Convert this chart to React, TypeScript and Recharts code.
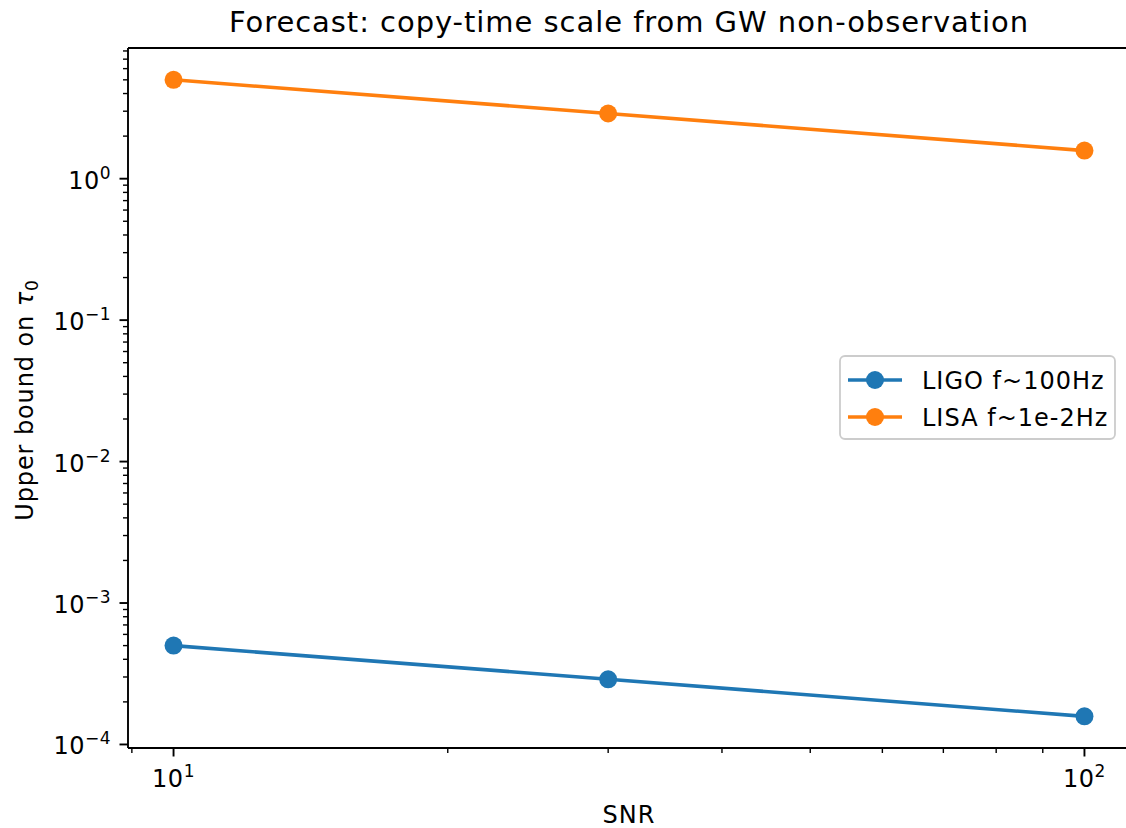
import React from 'react';
import { LineChart, Line, XAxis, YAxis, Legend, Customized, ReferenceLine } from 'recharts';

// SNR values and the two forecast series (upper bound on tau_0)
const snrValues = [10, 30, 100];
const ligoBound = [5.0e-4, 2.89e-4, 1.58e-4];
const lisaBound = [5.0, 2.89, 1.58];

const seriesNames = ['LIGO f~100Hz', 'LISA f~1e-2Hz'];
const seriesColors = ['#1f77b4', '#ff7f0e'];

const xMajorTicks = [10, 100];
const xMinorTicks = [9, 20, 30, 40, 50, 60, 70, 80, 90];
const yMajorTicks = [1e-4, 1e-3, 1e-2, 1e-1, 1];
const yMinorMultipliers = [2, 3, 4, 5, 6, 7, 8, 9];

const xDomain = [Math.pow(10, 0.95), Math.pow(10, 2.05)];
const yDomain = [Math.pow(10, -4.025), Math.pow(10, 0.924)];

const yMinorTicks = yMajorTicks
  .flatMap(d => yMinorMultipliers.map(m => m * d))
  .filter(v => v > yDomain[0] && v < yDomain[1]);

const chartData = snrValues.map((snr, i) => ({
  snr,
  ligo: ligoBound[i],
  lisa: lisaBound[i],
}));

const FONT = '"DejaVu Sans", sans-serif';
const isMajor = (v: number, majors: number[]) => majors.some(m => Math.abs(m - v) / m < 1e-6);
const expOf = (v: number) => {
  const e = Math.round(Math.log10(v));
  return e < 0 ? `\u2212${-e}` : `${e}`;
};

function XTick(props: any) {
  const { x, y, payload } = props;
  const v = payload.value;
  const major = isMajor(v, xMajorTicks);
  return (
    <g>
      <line x1={x} y1={y} x2={x} y2={y + (major ? 8.5 : 5)} stroke="#000" strokeWidth={major ? 1.9 : 1.4} />
      {major && (
        <text x={x} y={y + 38.5} textAnchor="middle" fontFamily={FONT} fontSize={24} letterSpacing={0.5} fill="#000">
          <tspan>10</tspan>
          <tspan dy={-10} fontSize={17}>{expOf(v)}</tspan>
        </text>
      )}
    </g>
  );
}

function YTick(props: any) {
  const { x, y, payload } = props;
  const v = payload.value;
  const major = isMajor(v, yMajorTicks);
  return (
    <g>
      <line x1={x} y1={y} x2={x - (major ? 8.5 : 5)} y2={y} stroke="#000" strokeWidth={major ? 1.9 : 1.4} />
      {major && (
        <text x={x - 17} y={y + 10} textAnchor="end" fontFamily={FONT} fontSize={24} letterSpacing={0.5} fill="#000">
          <tspan>10</tspan>
          <tspan dy={-10} fontSize={17}>{expOf(v)}</tspan>
        </text>
      )}
    </g>
  );
}

function LegendBox(props: any) {
  const items = props.payload || [];
  return (
    <svg width={277} height={85} style={{ display: 'block' }}>
      <rect x={1} y={1} width={275} height={83} rx={5} fill="rgba(255,255,255,0.8)" stroke="#cccccc" strokeWidth={1.8} />
      {items.map((it: any, i: number) => {
        const cy = 25 + i * 37;
        return (
          <g key={it.value}>
            <line x1={9} y1={cy} x2={63} y2={cy} stroke={it.color} strokeWidth={3.6} />
            <circle cx={36} cy={cy} r={9} fill={it.color} />
            <text x={83} y={cy + 8.5} fontFamily={FONT} fontSize={24} letterSpacing={1} fill="#000">{it.value}</text>
          </g>
        );
      })}
    </svg>
  );
}

function Labels() {
  return (
    <g fontFamily={FONT} fill="#000">
      <text x={629} y={32} textAnchor="middle" fontSize={29} letterSpacing={0.95}>
        Forecast: copy-time scale from GW non-observation
      </text>
      <text x={629} y={822.5} textAnchor="middle" fontSize={24} letterSpacing={1}>SNR</text>
      <text x={33} y={400} textAnchor="middle" fontSize={24} letterSpacing={0.9} transform="rotate(-90, 33, 400)">
        <tspan>Upper bound on </tspan>
        <tspan fontStyle="italic">τ</tspan>
        <tspan dy={5} fontSize={17}>0</tspan>
      </text>
    </g>
  );
}

export default function App() {
  return (
    <div style={{ position: 'absolute', left: 0, top: 0, width: 1126, height: 828, overflow: 'hidden', background: '#fff' }}>
      <LineChart width={1130} height={828} data={chartData} margin={{ top: 48, right: 0, bottom: 0, left: 0 }}>
        <XAxis
          dataKey="snr"
          type="number"
          scale="log"
          domain={xDomain}
          allowDataOverflow
          ticks={[...xMinorTicks, ...xMajorTicks].sort((a, b) => a - b)}
          interval={0}
          tick={<XTick />}
          tickLine={false}
          tickSize={0}
          tickMargin={0}
          height={80}
          axisLine={{ stroke: '#000', strokeWidth: 1.9 }}
        />
        <YAxis
          type="number"
          scale="log"
          domain={yDomain}
          allowDataOverflow
          ticks={[...yMinorTicks, ...yMajorTicks].sort((a, b) => a - b)}
          interval={0}
          tick={<YTick />}
          tickLine={false}
          tickSize={0}
          tickMargin={0}
          width={128}
          axisLine={{ stroke: '#000', strokeWidth: 1.9 }}
        />
        {/* top spine */}
        <ReferenceLine y={yDomain[1]} stroke="#000" strokeWidth={1.9} ifOverflow="extendDomain" />
        <Line
          dataKey="ligo"
          name={seriesNames[0]}
          stroke={seriesColors[0]}
          strokeWidth={3.6}
          dot={{ r: 9, fill: seriesColors[0], stroke: seriesColors[0], strokeWidth: 0 }}
          activeDot={false}
          isAnimationActive={false}
        />
        <Line
          dataKey="lisa"
          name={seriesNames[1]}
          stroke={seriesColors[1]}
          strokeWidth={3.6}
          dot={{ r: 9, fill: seriesColors[1], stroke: seriesColors[1], strokeWidth: 0 }}
          activeDot={false}
          isAnimationActive={false}
        />
        <Legend
          layout="vertical"
          align="center"
          verticalAlign="middle"
          content={<LegendBox />}
          wrapperStyle={{ left: 839, top: 355, width: 277, height: 85 }}
        />
        <Customized component={<Labels />} />
      </LineChart>
    </div>
  );
}
